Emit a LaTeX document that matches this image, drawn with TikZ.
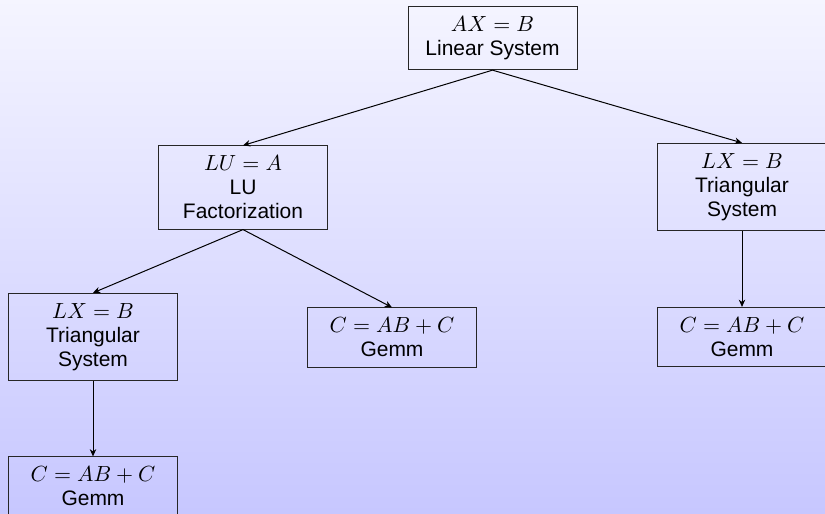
\documentclass[tikz,border=0pt]{standalone}
\usepackage{fontspec}
\setmainfont{Liberation Sans}[Scale=0.92]
\usetikzlibrary{arrows.meta}
\begin{document}
\fontsize{11.4}{12}\selectfont
\begin{tikzpicture}[x=0.5pt,y=-0.5pt,
  box/.style={draw=black!85, line width=0.5pt, align=center,
    minimum width=84.5pt, inner xsep=3pt, inner ysep=5pt},
  link/.style={-{Stealth[length=3.6pt,width=3.2pt,inset=1.1pt]}, line width=0.5pt}]
  % shaded backdrop, also fixes the page size
  \shade[top color=blue!4, bottom color=blue!22] (0,0) rectangle (825,514);
  \useasboundingbox (0,0) rectangle (825,514);

  \node[box] (sys)  at (492.5,38)  {$AX=B$\\Linear System};
  \node[box] (lu)   at (243,187.5) {$LU=A$\\LU\\Factorization};
  \node[box] (rtri) at (742,187)   {$LX=B$\\Triangular\\System};
  \node[box] (ltri) at (93,337)    {$LX=B$\\Triangular\\System};
  \node[box] (mgem) at (392,337.5) {$C=AB+C$\\Gemm};
  \node[box] (rgem) at (742,337)   {$C=AB+C$\\Gemm};
  \node[box] (bgem) at (93,486.5)  {$C=AB+C$\\Gemm};

  \draw[link] (sys.south)  -- (lu.north);
  \draw[link] (sys.south)  -- (rtri.north);
  \draw[link] (lu.south)   -- (ltri.north);
  \draw[link] (lu.south)   -- (mgem.north);
  \draw[link] (rtri.south) -- (rgem.north);
  \draw[link] (ltri.south) -- (bgem.north);
\end{tikzpicture}
\end{document}
